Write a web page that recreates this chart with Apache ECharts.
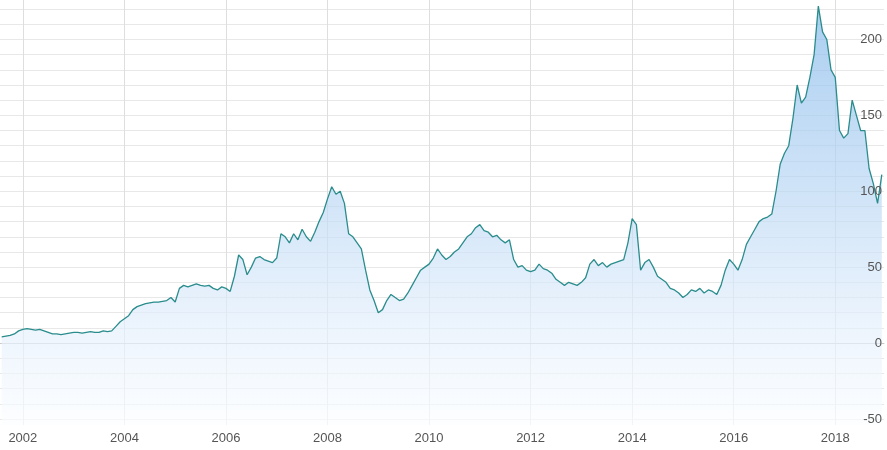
<!DOCTYPE html>
<html><head><meta charset="utf-8">
<script src="https://cdn.jsdelivr.net/npm/echarts@6/dist/echarts.min.js"></script>
<style>html,body{margin:0;padding:0;background:#fff}#c{width:887px;height:450px}</style>
</head><body><div id="c"></div>
<script>
const startMonth = "2001-08";
const values = [
4,4.5,5,6,8,
9,9.5,9,8.5,9,8,7,6,6,5.5,6,6.5,
7,7,6.5,7,7.5,7,7,8,7.5,8,11,14,
16,18,22,24,25,26,26.5,27,27,27.5,28,30,
27,36,38,37,38,39,38,37.5,38,36,35,37,
36,34,44,58,55,45,50,56,57,55,54,53,
56,72,70,66,72,68,75,70,67,73,80,86,
95,103,98,100,92,72,70,66,62,48,35,28,
20,22,28,32,30,28,29,33,38,43,48,50,
52,56,62,58,55,57,60,62,66,70,72,76,
78,74,73,70,71,68,66,68,55,50,51,48,
47,48,52,49,48,46,42,40,38,40,39,38,
40,43,52,55,51,53,50,52,53,54,55,66,
82,78,48,53,55,50,44,42,40,36,35,33,
30,32,35,34,36,33,35,34,32,38,48,55,
52,48,55,65,70,75,80,82,83,85,100,118,
125,130,148,170,158,162,175,190,222,205,200,180,
175,140,135,138,160,150,140,140,115,105,92,111
];
const xTicks = [2002,2004,2006,2008,2010,2012,2014,2016,2018];
const yLabels = [-50,0,50,100,150,200];
const yGrid = [-50,-40,-30,-20,-10,0,10,20,30,40,50,60,70,80,90,100,110,120,130,140,150,160,170,180,190,200,210,220];

const [sy, sm] = startMonth.split("-").map(Number);
const data = values.map((v,i)=>[sy + (sm-1+i)/12, v]);

const chart = echarts.init(document.getElementById('c'));
chart.setOption({
  animation:false,
  grid:{left:0,right:3,top:0,bottom:25},
  xAxis:{type:'value',min:2001.55,max:2018.96,
    axisLine:{show:true,lineStyle:{color:'#c8c8c8'}},
    axisTick:{show:false,customValues:xTicks},
    axisLabel:{customValues:xTicks,color:'#555',fontSize:13,fontFamily:'Liberation Sans',formatter:v=>String(v),margin:7},
    splitLine:{show:true,lineStyle:{color:'#dedede'}}},
  yAxis:[{type:'value',position:'right',min:-54,max:226,
    axisLine:{show:false},
    axisTick:{show:false,customValues:yGrid},
    axisLabel:{show:false},
    splitLine:{show:true,lineStyle:{color:'#e8e8e8'}}},
   {type:'value',position:'right',min:-54,max:226,z:10,
    axisLine:{show:false},axisTick:{show:false},splitLine:{show:false},
    axisLabel:{inside:true,customValues:yLabels,color:'#555',fontSize:13,fontFamily:'Liberation Sans',margin:2}}],
  series:[{type:'line',data:data,showSymbol:false,symbol:'none',yAxisIndex:0,
    lineStyle:{color:'#2a8c8c',width:1.3},
    areaStyle:{origin:'start',color:new echarts.graphic.LinearGradient(0,0,0,1,[
      {offset:0,color:'#86b9ea'},{offset:0.45,color:'#bcd8f4'},{offset:0.75,color:'#e2eefb'},{offset:1,color:'#fbfdff'}])}}]
});
</script></body></html>
